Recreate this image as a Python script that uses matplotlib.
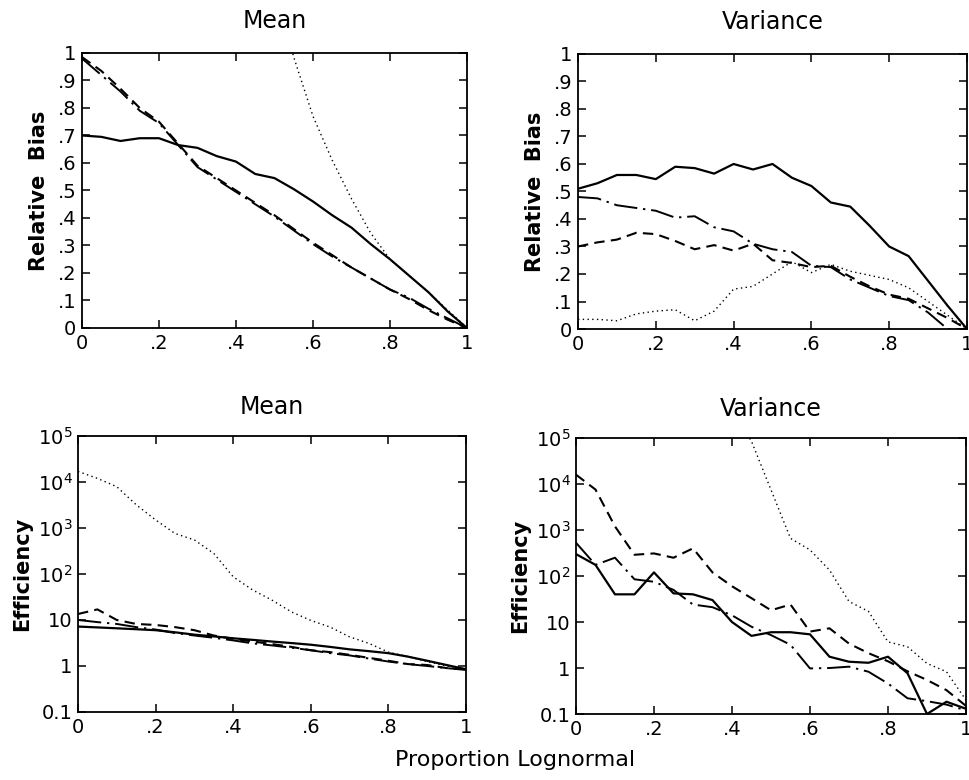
import matplotlib
matplotlib.use("Agg")
import matplotlib.pyplot as plt
from matplotlib.ticker import FixedLocator, FixedFormatter, NullLocator

# proportion lognormal grid
x = [0.0, 0.05, 0.1, 0.15, 0.2, 0.25, 0.3, 0.35, 0.4, 0.45, 0.5,
     0.55, 0.6, 0.65, 0.7, 0.75, 0.8, 0.85, 0.9, 0.95, 1.0]

# --- relative bias, mean ---
mean_bias_solid = [0.70, 0.695, 0.68, 0.69, 0.69, 0.665, 0.655, 0.625, 0.605, 0.56, 0.545,
                   0.505, 0.46, 0.41, 0.365, 0.305, 0.25, 0.19, 0.13, 0.06, 0.0]
mean_bias_dashed = [0.985, 0.935, 0.87, 0.80, 0.75, 0.67, 0.59, 0.545, 0.50, 0.455, 0.41,
                    0.36, 0.31, 0.265, 0.22, 0.18, 0.14, 0.105, 0.065, 0.03, 0.0]
mean_bias_dashdot = [0.98, 0.92, 0.86, 0.79, 0.745, 0.665, 0.585, 0.54, 0.495, 0.45, 0.405,
                     0.355, 0.305, 0.26, 0.22, 0.18, 0.14, 0.11, 0.07, 0.035, 0.0]
x_mean_dot = [0.5, 0.55, 0.6, 0.65, 0.7, 0.75, 0.8, 0.85, 0.9, 0.95, 1.0]
mean_bias_dotted = [1.25, 0.985, 0.77, 0.61, 0.47, 0.345, 0.25, 0.19, 0.13, 0.065, 0.0]

# --- relative bias, variance ---
var_bias_solid = [0.51, 0.53, 0.56, 0.56, 0.545, 0.59, 0.585, 0.565, 0.60, 0.58, 0.60,
                  0.55, 0.52, 0.46, 0.445, 0.375, 0.30, 0.265, 0.175, 0.085, 0.0]
var_bias_dashed = [0.30, 0.315, 0.325, 0.35, 0.345, 0.32, 0.29, 0.305, 0.285, 0.31, 0.25,
                   0.24, 0.225, 0.23, 0.19, 0.155, 0.125, 0.11, 0.075, 0.04, 0.0]
var_bias_dashdot = [0.48, 0.475, 0.45, 0.44, 0.43, 0.405, 0.41, 0.37, 0.355, 0.31, 0.29,
                    0.28, 0.23, 0.225, 0.18, 0.15, 0.12, 0.105, 0.06, 0.0, 0.0]
var_bias_dotted = [0.035, 0.035, 0.03, 0.055, 0.065, 0.07, 0.03, 0.065, 0.145, 0.155, 0.2,
                   0.245, 0.205, 0.235, 0.21, 0.195, 0.18, 0.15, 0.1, 0.05, 0.0]

# --- efficiency, mean ---
mean_eff_solid = [7.2, 6.9, 6.6, 6.3, 6.0, 5.4, 4.8, 4.4, 4.0, 3.7, 3.4,
                  3.15, 2.9, 2.6, 2.3, 2.1, 1.9, 1.6, 1.3, 1.05, 0.85]
mean_eff_dashed = [13.5, 17, 10, 8.2, 7.8, 7.0, 6.0, 4.6, 3.9, 3.4, 3.0,
                   2.6, 2.2, 2.0, 1.75, 1.5, 1.3, 1.1, 1.05, 0.9, 0.85]
mean_eff_dashdot = [10, 9.0, 8.2, 7.0, 6.2, 5.2, 4.6, 4.1, 3.6, 3.1, 2.8,
                    2.5, 2.2, 1.9, 1.7, 1.45, 1.25, 1.1, 1.0, 0.9, 0.82]
mean_eff_dotted = [17000, 12000, 7900, 3200, 1500, 760, 550, 280, 87, 45, 27,
                   15, 9.8, 7.0, 4.3, 3.1, 2.0, 1.6, 1.25, 1.0, 0.85]

# --- efficiency, variance ---
var_eff_solid = [300, 175, 40, 40, 120, 42, 40, 30, 10, 5.0, 6.0,
                 6.0, 5.4, 1.76, 1.37, 1.3, 1.76, 0.77, 0.1, 0.185, 0.13]
var_eff_dashed = [16000, 7600, 1200, 290, 310, 250, 400, 120, 60, 33, 18,
                  24, 6.2, 7.3, 3.4, 2.1, 1.4, 0.85, 0.55, 0.33, 0.15]
var_eff_dashdot = [530, 175, 250, 85, 75, 50, 24, 21, 14, 7.9, 5.2,
                   3.2, 0.98, 1.0, 1.07, 0.83, 0.46, 0.22, 0.19, 0.16, 0.12]
x_var_dot = [0.4, 0.45, 0.5, 0.55, 0.6, 0.65, 0.7, 0.75, 0.8, 0.85, 0.9, 0.95, 1.0]
var_eff_dotted = [4e5, 8.5e4, 7500, 660, 370, 135, 28, 17, 3.7, 2.9, 1.26, 0.83, 0.2]

xticks = [0, 0.2, 0.4, 0.6, 0.8, 1.0]
xticklabels = ["0", ".2", ".4", ".6", ".8", "1"]
bias_ticks = [0, 0.1, 0.2, 0.3, 0.4, 0.5, 0.6, 0.7, 0.8, 0.9, 1.0]
bias_labels = ["0", ".1", ".2", ".3", ".4", ".5", ".6", ".7", ".8", ".9", "1"]
eff_ticks = [0.1, 1, 10, 100, 1000, 1e4, 1e5]
eff_labels = ["0.1", "1", "10", r"$\mathregular{10^2}$", r"$\mathregular{10^3}$",
              r"$\mathregular{10^4}$", r"$\mathregular{10^5}$"]

plt.rcParams["font.family"] = ["DejaVu Sans"]

SOLID = dict(color="black", lw=1.6, linestyle="-")
DASHED = dict(color="black", lw=1.5, linestyle=(0, (5, 3)))
DASHDOT = dict(color="black", lw=1.4, linestyle=(0, (12, 3, 1.2, 3)))
DOTTED = dict(color="black", lw=1.0, linestyle=(0, (1, 2.4)))

fig = plt.figure(figsize=(9.69, 7.8), dpi=100)
ax_tl = fig.add_axes([0.0846, 0.5795, 0.3973, 0.3526])
ax_tr = fig.add_axes([0.5965, 0.5782, 0.4014, 0.3526])
ax_bl = fig.add_axes([0.0805, 0.0872, 0.4004, 0.3538])
ax_br = fig.add_axes([0.5944, 0.0846, 0.4025, 0.3538])


def style(ax, title, pad):
    ax.set_xlim(0, 1)
    ax.set_xticks(xticks)
    ax.set_xticklabels(xticklabels)
    ax.tick_params(direction="in", top=True, right=True, length=6, width=1.1,
                   labelsize=14, pad=4)
    for sp in ax.spines.values():
        sp.set_linewidth(1.3)
    ax.set_title(title, fontsize=17, pad=pad)


# top-left
ax_tl.plot(x, mean_bias_solid, **SOLID)
ax_tl.plot(x, mean_bias_dashed, **DASHED)
ax_tl.plot(x, mean_bias_dashdot, **DASHDOT)
ax_tl.plot(x_mean_dot, mean_bias_dotted, **DOTTED)

# top-right
ax_tr.plot(x, var_bias_solid, **SOLID)
ax_tr.plot(x, var_bias_dashed, **DASHED)
ax_tr.plot(x, var_bias_dashdot, **DASHDOT)
ax_tr.plot(x, var_bias_dotted, **DOTTED)

for ax, t in [(ax_tl, "Mean"), (ax_tr, "Variance")]:
    ax.set_ylim(0, 1)
    ax.set_yticks(bias_ticks)
    ax.set_yticklabels(bias_labels)
    ax.set_ylabel("Relative  Bias", fontsize=15, fontweight="bold", labelpad=6)
    style(ax, t, 18)

# bottom-left
ax_bl.plot(x, mean_eff_solid, **SOLID)
ax_bl.plot(x, mean_eff_dashed, **DASHED)
ax_bl.plot(x, mean_eff_dashdot, **DASHDOT)
ax_bl.plot(x, mean_eff_dotted, **DOTTED)

# bottom-right
ax_br.plot(x, var_eff_solid, **SOLID)
ax_br.plot(x, var_eff_dashed, **DASHED)
ax_br.plot(x, var_eff_dashdot, **DASHDOT)
ax_br.plot(x_var_dot, var_eff_dotted, **DOTTED)

for ax, t in [(ax_bl, "Mean"), (ax_br, "Variance")]:
    ax.set_yscale("log")
    ax.set_ylim(0.1, 1e5)
    ax.yaxis.set_major_locator(FixedLocator(eff_ticks))
    ax.yaxis.set_major_formatter(FixedFormatter(eff_labels))
    ax.yaxis.set_minor_locator(NullLocator())
    ax.set_ylabel("Efficiency", fontsize=15, fontweight="bold", labelpad=4)
    style(ax, t, 16)

fig.text(515 / 969, 1 - 760 / 780, "Proportion Lognormal", fontsize=16,
         ha="center", va="center")

fig.savefig("out.png", dpi=100)
